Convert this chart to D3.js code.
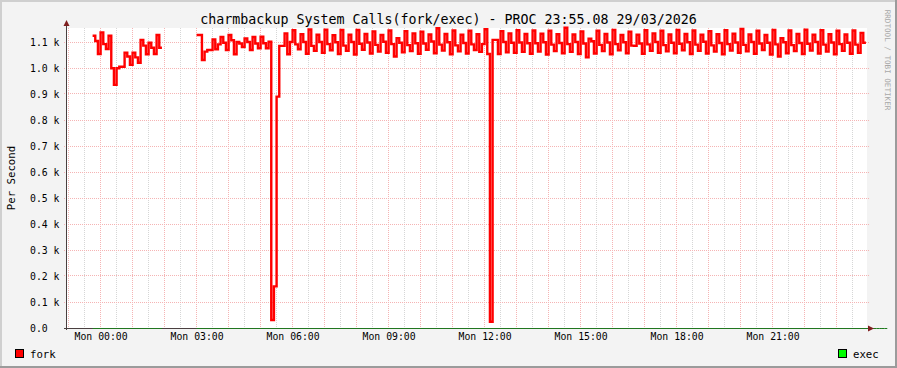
<!DOCTYPE html>
<html><head><meta charset="utf-8">
<script src="https://cdn.jsdelivr.net/npm/d3@7"></script>
<style>
html,body{margin:0;padding:0;background:#F3F3F3;}
svg{display:block;}
text{font-family:"DejaVu Sans Mono",monospace;}
</style></head><body>
<svg id="c" width="897" height="368"></svg>
<script>
// ---------------- data ----------------
const titleText = "charmbackup System Calls(fork/exec) - PROC 23:55.08 29/03/2026";
const yAxisTitle = "Per Second";
const watermarkText = "RRDTOOL / TOBI OETIKER";
const seriesNames = ["fork", "exec"];
const yTickValues = [0, 100, 200, 300, 400, 500, 600, 700, 800, 900, 1000, 1100];
const yTickLabels = ["0.0", "0.1 k", "0.2 k", "0.3 k", "0.4 k", "0.5 k", "0.6 k", "0.7 k", "0.8 k", "0.9 k", "1.0 k", "1.1 k"];
const xTickMinutes = [0, 180, 360, 540, 720, 900, 1080, 1260];
const xTickLabels = ["Mon 00:00", "Mon 03:00", "Mon 06:00", "Mon 09:00", "Mon 12:00", "Mon 15:00", "Mon 18:00", "Mon 21:00"];
const xDomainMinutes = [-63, 1437];   // minutes relative to Mon 00:00
const dataStartMinute = -15;
const stepMinutes = 5;

// fork per second, one value per 5-minute step (null = no data)
const forkValues = [
  1124, 1104, 1054, 1137, 1092, 1073, 1124, 999, 935, 999, 1005, 1005, 1059, 1044, 1012, 1059, 1041, 1020, 1108, 1086, 1053, 1097, 1078, 1054, 1127, 1078,
  null, null, null, null, null, null, null, null, null, null, null, null, null,
  1127, 1127, 1031, 1063, 1069, 1069, 1110, 1072, 1091, 1119, 1097, 1069,
  1127, 1107, 1053, 1100, 1094, 1081, 1114, 1100, 1069, 1119, 1094, 1076,
  1120, 1095, 1076, 1101, 31, 160, 890, 1085, 1085, 1133, 1053, 1100,
  1145, 1091, 1072, 1130, 1100, 1055,
  1148, 1085, 1066, 1128, 1100, 1058,
  1147, 1092, 1068, 1126, 1099, 1054,
  1146, 1086, 1066, 1128, 1100, 1052,
  1146, 1093, 1070, 1131, 1098, 1056,
  1141, 1089, 1063, 1127, 1101, 1058,
  1144, 1092, 1044, 1115, 1097, 1060,
  1142, 1088, 1065, 1133, 1095, 1055,
  1140, 1094, 1070, 1129, 1102, 1057,
  1153, 1090, 1067, 1131, 1099, 1053,
  1144, 1087, 1064, 1128, 1096, 1056,
  1143, 1091, 1069, 1130, 1062, 1092,
  1149, 1054, 24, 1108, 1108, 1054,
  1142, 1100, 1060, 1133, 1097, 1058,
  1145, 1098, 1062, 1131, 1095, 1055,
  1144, 1095, 1063, 1132, 1099, 1052,
  1143, 1090, 1065, 1130, 1096, 1057,
  1155, 1092, 1062, 1129, 1100, 1054,
  1141, 1094, 1041, 1113, 1103, 1056,
  1143, 1089, 1065, 1131, 1098, 1053,
  1146, 1092, 1068, 1127, 1099, 1057,
  1140, 1086, 1085, 1128, 1094, 1055,
  1145, 1091, 1066, 1133, 1100, 1058,
  1143, 1088, 1064, 1129, 1097, 1057,
  1146, 1093, 1068, 1131, 1099, 1054,
  1144, 1090, 1066, 1128, 1101, 1056,
  1142, 1087, 1063, 1130, 1096, 1053,
  1145, 1092, 1067, 1132, 1098, 1058,
  1150, 1089, 1064, 1129, 1100, 1055,
  1143, 1094, 1069, 1127, 1097, 1052,
  1146, 1091, 1044, 1115, 1099, 1057,
  1144, 1088, 1065, 1131, 1096, 1054,
  1147, 1093, 1067, 1128, 1100, 1056,
  1145, 1090, 1063, 1130, 1098, 1053,
  1143, 1092, 1066, 1129, 1097, 1055,
  1144, 1090, 1058, 1135, 1097
];

// exec per second (flat zero wherever data exists)
const execValues = [
  0,0,0,0,0,0,0,0,0,0,0,0,0,0,0,0,0,0,0,0,0,0,0,0,0,0,
  null,null,null,null,null,null,null,null,null,null,null,null,null,
  0,0,0,0,0,0,0,0,0,0,0,0,0,0,0,0,0,0,0,0,0,0,0,0,0,0,0,0,0,0,0,0,0,0,0,0,
  0,0,0,0,0,0,0,0,0,0,0,0,0,0,0,0,0,0,0,0,0,0,0,0,0,0,0,0,0,0,0,0,0,0,0,0,
  0,0,0,0,0,0,0,0,0,0,0,0,0,0,0,0,0,0,0,0,0,0,0,0,0,0,0,0,0,0,0,0,0,0,0,0,
  0,0,0,0,0,0,0,0,0,0,0,0,0,0,0,0,0,0,0,0,0,0,0,0,0,0,0,0,0,0,0,0,0,0,0,0,
  0,0,0,0,0,0,0,0,0,0,0,0,0,0,0,0,0,0,0,0,0,0,0,0,0,0,0,0,0,0,0,0,0,0,0,0,
  0,0,0,0,0,0,0,0,0,0,0,0,0,0,0,0,0,0,0,0,0,0,0,0,0,0,0,0,0,0,0,0,0,0,0,0,
  0,0,0,0,0,0,0,0,0,0,0,0,0,0,0,0,0,0,0,0,0,0,0,0,0,0,0,0,0,0,0,0,0,0,0,0,
  0,0,0,0,0,0,0
];

// ---------------- drawing ----------------
const W = 897, H = 368;
const plotL = 67, plotR = 867, plotT = 28, plotB = 328;
const svg = d3.select("#c");

const x = d3.scaleLinear().domain(xDomainMinutes).range([plotL, plotR]);
const y = d3.scaleLinear().domain([0, 1100]).range([plotB, 42]);

// background + 3D border
svg.append("rect").attr("width", W).attr("height", H).attr("fill", "#F3F3F3");
svg.append("rect").attr("x", 0).attr("y", 0).attr("width", W).attr("height", 2).attr("fill", "#CFCFCF");
svg.append("rect").attr("x", 0).attr("y", 0).attr("width", 2).attr("height", H).attr("fill", "#CFCFCF");
svg.append("rect").attr("x", 0).attr("y", H - 2).attr("width", W).attr("height", 2).attr("fill", "#9B9B9B");
svg.append("rect").attr("x", W - 2).attr("y", 0).attr("width", 2).attr("height", H).attr("fill", "#9B9B9B");

// canvas
svg.append("rect").attr("x", plotL).attr("y", plotT).attr("width", plotR - plotL).attr("height", plotB - plotT).attr("fill", "#FFFFFF");

const px = v => Math.floor(v) + 0.5;

// minor vertical grid (half hours)
const minorMinutes = d3.range(-30, 1437, 60);
svg.append("g").selectAll("line").data(minorMinutes).join("line")
  .attr("x1", d => px(x(d))).attr("x2", d => px(x(d)))
  .attr("y1", plotT).attr("y2", plotB)
  .attr("stroke", "#D6D6D6").attr("stroke-width", 1).attr("stroke-dasharray", "1,1");

// major vertical grid (hours)
const majorMinutes = d3.range(-60, 1437, 60);
svg.append("g").selectAll("line").data(majorMinutes).join("line")
  .attr("x1", d => px(x(d))).attr("x2", d => px(x(d)))
  .attr("y1", plotT).attr("y2", plotB + 2)
  .attr("stroke", "#F5B4B4").attr("stroke-width", 1).attr("stroke-dasharray", "1,1");

// horizontal grid
svg.append("g").selectAll("line").data(yTickValues.slice(1)).join("line")
  .attr("x1", plotL - 3).attr("x2", plotR + 2)
  .attr("y1", d => px(y(d))).attr("y2", d => px(y(d)))
  .attr("stroke", "#F5B4B4").attr("stroke-width", 1).attr("stroke-dasharray", "1,1");

// series segments
function runs(values) {
  const out = [];
  let cur = null;
  values.forEach((v, i) => {
    const t0 = dataStartMinute + i * stepMinutes;
    if (v === null) { if (cur) { out.push(cur); cur = null; } return; }
    if (!cur) cur = [];
    cur.push({ t: t0, v: v });
    if (i === values.length - 1 || values[i + 1] === null) {
      cur.push({ t: t0 + stepMinutes, v: v });
    }
  });
  if (cur) out.push(cur);
  return out;
}
const stepLine = d3.line().x(d => x(d.t)).y(d => y(d.v)).curve(d3.curveStepAfter);
const stepLineExec = d3.line().x(d => x(d.t)).y(d => y(d.v) + 0.5).curve(d3.curveStepAfter);

// axes lines
svg.append("line").attr("x1", 66.5).attr("x2", 66.5).attr("y1", plotB + 2).attr("y2", 24)
  .attr("stroke", "#4A4040").attr("stroke-width", 1);
svg.append("line").attr("x1", plotL - 3).attr("x2", 870).attr("y1", 328.5).attr("y2", 328.5)
  .attr("stroke", "#4A4040").attr("stroke-width", 1);

// exec line
svg.append("g").selectAll("path").data(runs(execValues)).join("path")
  .attr("d", stepLineExec)
  .attr("fill", "none").attr("stroke", "#1E7A1E").attr("stroke-width", 1);

// fork line
svg.append("g").selectAll("path").data(runs(forkValues)).join("path")
  .attr("d", stepLine)
  .attr("fill", "none").attr("stroke", "#FF0000").attr("stroke-width", 2.4)
  .attr("stroke-linejoin", "miter");

// arrows
svg.append("path").attr("d", "M66.5,20 L63.5,26 L69.5,26 Z").attr("fill", "#7F1F1F");
svg.append("path").attr("d", "M874,328.5 L868,325.5 L868,331.5 Z").attr("fill", "#7F1F1F");

// y axis labels via d3 axis
const yAxis = d3.axisLeft(y).tickValues(yTickValues).tickFormat((d, i) => yTickLabels[i]).tickSize(0).tickPadding(0);
const gy = svg.append("g").attr("transform", "translate(30,0)").call(yAxis);
gy.select(".domain").remove();
gy.selectAll("text").attr("text-anchor", "start").attr("x", 0).attr("dy", "0.36em")
  .attr("font-family", "DejaVu Sans Mono").attr("font-size", 9.8).attr("fill", "#000");

// x axis labels via d3 axis
const xAxis = d3.axisBottom(x).tickValues(xTickMinutes).tickFormat((d, i) => xTickLabels[i]).tickSize(0).tickPadding(0);
const gx = svg.append("g").attr("transform", "translate(0,333)").call(xAxis);
gx.select(".domain").remove();
gx.selectAll("text").attr("dy", "0.71em")
  .attr("font-family", "DejaVu Sans Mono").attr("font-size", 9.8).attr("fill", "#000");

// title
svg.append("text").attr("x", 448.5).attr("y", 24).attr("text-anchor", "middle")
  .attr("font-size", 13.3).attr("fill", "#000").text(titleText);

// y title
svg.append("text").attr("transform", "translate(15,178) rotate(-90)").attr("text-anchor", "middle")
  .attr("font-size", 10.7).attr("fill", "#000").text(yAxisTitle);

// watermark
svg.append("text").attr("transform", "translate(885,60) rotate(90)").attr("text-anchor", "middle")
  .attr("font-size", 7.6).attr("fill", "#A8A8A8").text(watermarkText);

// legend
const legendColors = ["#FF0000", "#00FF00"];
const legendPos = [{ sx: 15.5, tx: 30 }, { sx: 838.5, tx: 853 }];
seriesNames.forEach((name, i) => {
  svg.append("rect").attr("x", legendPos[i].sx).attr("y", 349.5).attr("width", 8).attr("height", 8)
    .attr("fill", legendColors[i]).attr("stroke", "#000").attr("stroke-width", 1);
  svg.append("text").attr("x", legendPos[i].tx).attr("y", 357.5)
    .attr("font-size", 10.7).attr("fill", "#000").text(name);
});
</script>
</body></html>
